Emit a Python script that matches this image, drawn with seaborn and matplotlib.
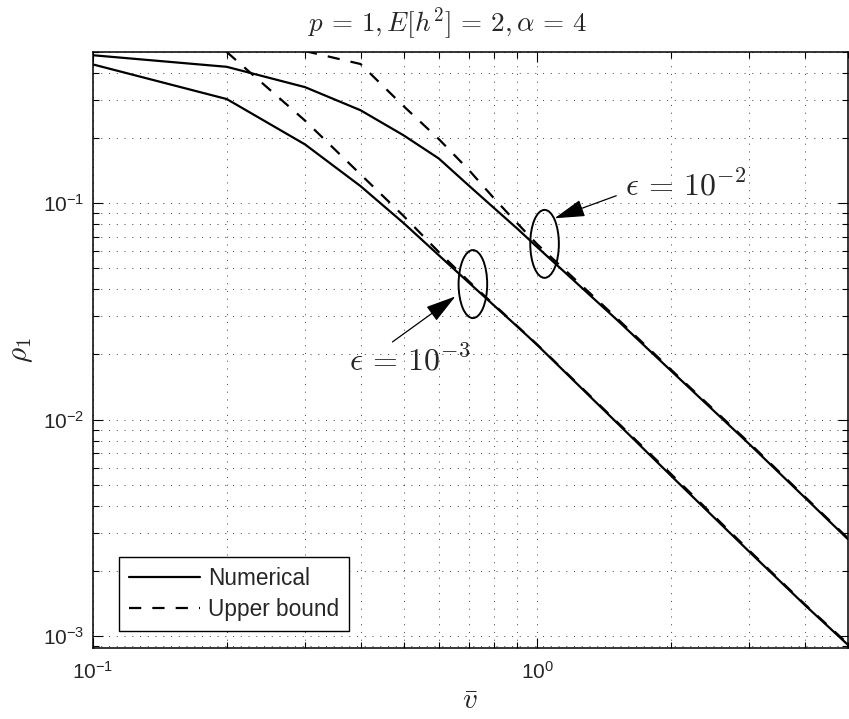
import matplotlib
matplotlib.use('Agg')
import matplotlib.pyplot as plt
from matplotlib.patches import Ellipse
from matplotlib.transforms import ScaledTranslation
from matplotlib.lines import Line2D
from matplotlib.ticker import NullFormatter, LogLocator, FuncFormatter
import numpy as np
import seaborn as sns

# data
v = [0.1, 0.2, 0.3, 0.4, 0.5, 0.6, 0.7, 0.8, 0.9, 1.0, 1.5, 2.0, 3.0, 4.0, 5.0]
num_e2 = [0.483, 0.427, 0.344, 0.269, 0.206, 0.161, 0.121, 0.0948, 0.0765,
          0.0626, 0.0293, 0.0168, 0.0077, 0.00436, 0.0028]
num_e3 = [0.438, 0.303, 0.187, 0.120, 0.081, 0.0575, 0.0431, 0.0336, 0.0270,
          0.0221, 0.0098, 0.0055, 0.00245, 0.00139, 0.00091]

v_ub_e2 = [0.3, 0.4, 0.5, 0.6, 0.7, 0.8, 0.9, 1.0, 1.5, 2.0, 3.0, 4.0, 5.0]
ub_e2 = [0.505, 0.44, 0.281, 0.198, 0.143, 0.105, 0.081, 0.0645, 0.0298,
         0.0170, 0.0078, 0.0044, 0.00283]
v_ub_e3 = [0.2, 0.3, 0.4, 0.5, 0.6, 0.7, 0.8, 0.9, 1.0, 1.5, 2.0, 3.0, 4.0, 5.0]
ub_e3 = [0.5, 0.241, 0.136, 0.0873, 0.0595, 0.0437, 0.0339, 0.0271, 0.0222,
         0.0099, 0.0056, 0.00248, 0.0014, 0.00092]

legend_labels = ['Numerical', 'Upper bound']

sns.set_style('ticks')
plt.rcParams['font.family'] = ['Liberation Sans', 'DejaVu Sans']
plt.rcParams['mathtext.fontset'] = 'cm'

fig = plt.figure(figsize=(8.49, 7.19), dpi=100)
ax = fig.add_axes([0.1095, 0.0987, 0.8893, 0.829])

lw = 1.6
dash = (0, (5.5, 5.0))
sns.lineplot(x=v, y=num_e2, ax=ax, color='k', lw=lw, linestyle='-')
sns.lineplot(x=v, y=num_e3, ax=ax, color='k', lw=lw, linestyle='-')
sns.lineplot(x=v_ub_e2, y=ub_e2, ax=ax, color='k', lw=lw, linestyle=dash)
sns.lineplot(x=v_ub_e3, y=ub_e3, ax=ax, color='k', lw=lw, linestyle=dash)

ax.set_xscale('log')
ax.set_yscale('log')
ax.set_xlim(0.1, 5)
ax.set_ylim(0.00088, 0.5)

# matlab style 10^n labels in the plain sans font
pow_fmt = FuncFormatter(lambda val, pos: r'$\mathregular{10^{%d}}$' % int(round(np.log10(val))))
ax.xaxis.set_major_formatter(pow_fmt)
ax.yaxis.set_major_formatter(pow_fmt)
ax.yaxis.set_minor_locator(LogLocator(base=10, subs=range(2, 10)))
ax.xaxis.set_minor_locator(LogLocator(base=10, subs=range(2, 10)))
ax.xaxis.set_minor_formatter(NullFormatter())
ax.yaxis.set_minor_formatter(NullFormatter())

ax.grid(True, which='both', color='k', lw=0.6, linestyle=(0, (1.3, 8)), alpha=0.8)
ax.tick_params(which='both', direction='in', top=True, right=True, labelsize=15,
               width=0.8, color='k')
ax.tick_params(which='major', length=7)
ax.tick_params(which='minor', length=4)
ax.tick_params(axis='x', pad=9)
ax.tick_params(axis='y', pad=6)
for s in ax.spines.values():
    s.set_linewidth(1.1)
    s.set_color('k')

ax.text(0.469, 1.0336, r'$p\,=\,1,E[h^2]\,=\,2,\alpha\,=\,4$', fontsize=19.5, ha='center',
        va='baseline', transform=ax.transAxes)
ax.set_xlabel(r'$\bar{v}$', fontsize=21, labelpad=3)
ax.set_ylabel(r'$\rho_1$', fontsize=21, labelpad=6)

# ellipses marking the two curve pairs
for cx, cy in [(1.038, 0.0649), (0.716, 0.0423)]:
    e = Ellipse((0, 0), 0.286, 0.68, fill=False, ec='k', lw=1.4,
                transform=fig.dpi_scale_trans + ScaledTranslation(cx, cy, ax.transData))
    ax.add_artist(e)

arrow = dict(arrowstyle='-|>,head_length=0.95,head_width=0.27', color='k', lw=0.9,
             shrinkA=0, shrinkB=0, mutation_scale=20)
ax.annotate('', xy=(1.093, 0.0852), xytext=(1.505, 0.1083), arrowprops=arrow)
ax.annotate('', xy=(0.654, 0.0371), xytext=(0.472, 0.02286), arrowprops=arrow)
ax.text(1.571, 0.1089, r'$\epsilon\,=\,10^{-2}$', fontsize=23, va='baseline', ha='left')
ax.text(0.3764, 0.01693, r'$\epsilon\,=\,10^{-3}$', fontsize=23, va='baseline', ha='left')

handles = [Line2D([], [], color='k', lw=lw, linestyle='-'),
           Line2D([], [], color='k', lw=lw, linestyle=dash)]
leg = ax.legend(handles, legend_labels, loc='lower left', bbox_to_anchor=(0.0348, 0.029),
                borderaxespad=0, fontsize=16.3, handlelength=3.15, handletextpad=0.35,
                borderpad=0.42, labelspacing=0.38, fancybox=False, framealpha=1,
                edgecolor='k')
leg.get_frame().set_linewidth(1.0)

fig.savefig('out.png', dpi=100)
